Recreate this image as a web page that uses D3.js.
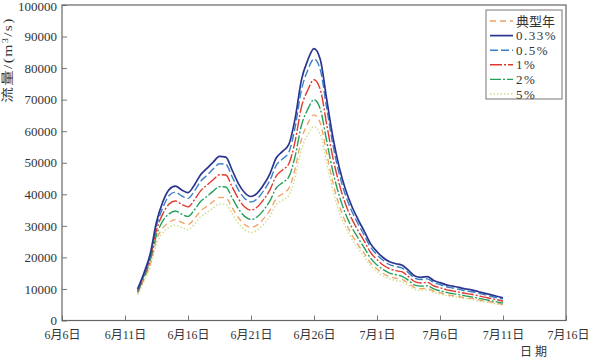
<!DOCTYPE html>
<html><head><meta charset="utf-8">
<script src="https://cdn.jsdelivr.net/npm/d3@7"></script>
<style>
body{margin:0;background:#fff;}
svg{display:block;}
text{font-family:"Liberation Serif","Noto Sans CJK SC",serif;fill:#333;}
</style></head>
<body><svg id="c" width="589" height="358"></svg>
<script>
// ---- data ----
const times = ["06-12 00","06-12 12","06-13 00","06-13 12","06-14 00","06-14 12","06-15 00","06-15 12","06-16 00","06-16 12",
"06-17 00","06-17 12","06-18 00","06-18 12","06-19 00","06-19 12","06-20 00","06-20 12","06-21 00","06-21 12",
"06-22 00","06-22 12","06-23 00","06-23 12","06-24 00","06-24 12","06-25 00","06-25 12","06-26 00","06-26 12",
"06-27 00","06-27 12","06-28 00","06-28 12","06-29 00","06-29 12","06-30 00","06-30 12","07-01 00","07-01 12",
"07-02 00","07-02 12","07-03 00","07-03 12","07-04 00","07-04 12","07-05 00","07-05 12","07-06 00","07-06 12",
"07-07 00","07-07 12","07-08 00","07-08 12","07-09 00","07-09 12","07-10 00","07-10 12","07-11 00"];

const p033 = [10000,15000,21100,31200,37600,41500,42600,41400,40500,42900,46200,48200,50200,52000,51800,47700,43400,40500,39300,40400,
43000,46500,51500,53600,55800,64000,76200,82500,86200,82700,70300,58100,48600,41500,36200,32000,28200,24300,21800,19900,
18600,18000,17500,15900,14100,13700,13900,12700,12000,11300,10900,10500,10000,9700,9200,8700,8200,7700,7200];
const p05 = [9700,14600,20500,30000,35700,39600,40700,39500,38700,41000,44100,46000,48000,49700,49500,45600,41400,38700,37600,38600,
41100,44400,49200,51200,53300,61200,73000,79300,82900,79500,67500,55700,46500,39700,34600,30600,26900,23200,20800,19000,
17700,17100,16600,15100,13400,13000,13200,12000,11400,10700,10300,9900,9400,9100,8700,8200,7700,7200,6800];
const p1 = [9400,14200,19800,28700,33800,36900,37900,36800,36000,38200,41100,42900,44600,46200,46100,42400,38600,36000,35000,36000,
38300,41400,45800,47700,49700,56800,67600,73000,76300,73200,62300,51600,43300,36900,32200,28500,25100,21500,19300,17500,
16400,15800,15400,13900,12300,11900,12100,11000,10400,9800,9400,9000,8600,8300,7900,7400,7000,6600,6100];
const p2 = [9000,13600,19000,27100,31600,33800,34700,33700,33000,35000,37700,39300,41000,42400,42300,38900,35400,33000,32000,32900,
35000,37900,42000,43700,45500,52000,61800,66900,70000,67000,57000,47200,39600,33800,29500,26100,23000,19700,17600,16100,
15000,14500,14000,12700,11200,10900,11000,10000,9400,8900,8500,8200,7800,7500,7100,6700,6300,5900,5500];
const pTyp = [8600,13000,17900,25600,29300,31100,32000,31100,30400,32200,34700,36200,37700,39000,38900,35800,32600,30400,29500,30300,
32300,34900,38600,40200,41900,48100,57400,62400,65200,62500,53100,43700,36500,31200,27200,24000,21200,18200,16300,14900,
13900,13400,13000,11800,10400,10100,10200,9300,8800,8200,7900,7600,7200,7000,6600,6200,5900,5500,5100];
const p5 = [8200,12400,17100,24300,27800,29500,30200,29400,28800,30500,32800,34200,35700,36900,36800,33900,30800,28800,27900,28700,
30500,33000,36600,38100,39600,45500,54200,58800,61500,59000,50100,41300,34500,29600,25900,22900,20100,17300,15500,14100,
13200,12700,12300,11200,9900,9600,9700,8900,8400,7900,7600,7300,6900,6700,6300,5900,5600,5200,4900];

const seriesNames = ["典型年","0.33%","0.5%","1%","2%","5%"];
const seriesValues = [pTyp, p033, p05, p1, p2, p5];

const xTickDates = ["06-06","06-11","06-16","06-21","06-26","07-01","07-06","07-11","07-16"];
const xTickLabels = ["6月6日","6月11日","6月16日","6月21日","6月26日","7月1日","7月6日","7月11日","7月16日"];
const yTicks = [0,10000,20000,30000,40000,50000,60000,70000,80000,90000,100000];

// ---- styles ----
const colors = ["#f0a060","#2a3590","#3b80c6","#e0392e","#22a05a","#cfdc8c"];
const dashes = ["6,4",null,"8,3","12,2,2,2","11,2,2,2","1.5,2"];
const widths = [1.3,1.7,1.4,1.4,1.4,1.4];

const svg = d3.select("#c");
const L=62, R=566, T=5, B=320.5;
const parseT = d3.utcParse("%Y-%m-%d %H");
const parseD = d3.utcParse("%Y-%m-%d");
const x = d3.scaleUtc().domain([parseD("2020-06-06"), parseD("2020-07-16")]).range([L,R]);
const y = d3.scaleLinear().domain([0,100000]).range([B,T]);
const tx = times.map(t=>parseT("2020-"+t));

// axes
const xa = d3.axisBottom(x).tickValues(xTickDates.map(d=>parseD("2020-"+d)))
  .tickFormat((d,i)=>xTickLabels[i]).tickSizeInner(-5).tickSizeOuter(0).tickPadding(10);
const gx = svg.append("g").attr("transform",`translate(0,${B})`).call(xa);
gx.select(".domain").remove();
gx.selectAll("line").attr("stroke","#777");
gx.selectAll("text").attr("font-size",12).attr("fill","#333");
gx.selectAll(".tick:last-of-type text").attr("text-anchor","end").attr("dx",23);

const ya = d3.axisLeft(y).tickValues(yTicks).tickFormat(d3.format("d"))
  .tickSizeInner(-5).tickSizeOuter(0).tickPadding(5);
const gy = svg.append("g").attr("transform",`translate(${L},0)`).call(ya);
gy.select(".domain").remove();
gy.selectAll("line").attr("stroke","#777");
gy.selectAll("text").attr("font-size",13).attr("fill","#333");
gy.selectAll(".tick:last-of-type text").attr("dy","0.4em");

// frame
svg.append("rect").attr("x",L).attr("y",T).attr("width",R-L).attr("height",B-T)
  .attr("fill","none").attr("stroke","#666").attr("stroke-width",1.2);

// lines
const line = d3.line().x((d,i)=>x(tx[i])).y(d=>y(d)).curve(d3.curveMonotoneX);
const drawOrder = [5,0,4,3,2,1];
drawOrder.forEach(k=>{
  svg.append("path").datum(seriesValues[k]).attr("d",line)
    .attr("fill","none").attr("stroke",colors[k]).attr("stroke-width",widths[k])
    .attr("stroke-dasharray",dashes[k]);
});

// axis titles
svg.append("text").attr("transform","translate(12,60) rotate(-90) scale(1.3,1)")
  .attr("text-anchor","middle").attr("font-size",12).attr("letter-spacing",1)
  .html('流量/(m<tspan dy="-4" font-size="8">3</tspan><tspan dy="4">/s)</tspan>');
svg.append("text").attr("x",535).attr("y",356).attr("text-anchor","middle")
  .attr("font-size",12).attr("letter-spacing",3).text("日期");

// legend
const lg = svg.append("g");
lg.append("rect").attr("x",486).attr("y",10).attr("width",76).attr("height",89)
  .attr("fill","#fff").attr("stroke","#777").attr("stroke-width",1);
seriesNames.forEach((n,i)=>{
  const yy = 21 + i*14.6;
  lg.append("line").attr("x1",490).attr("x2",513).attr("y1",yy).attr("y2",yy)
    .attr("stroke",colors[i]).attr("stroke-width",widths[i]).attr("stroke-dasharray",dashes[i]);
  lg.append("text").attr("x",516).attr("y",yy+4.5).attr("font-size",13)
    .attr("letter-spacing", i===0?0:1.5).text(n);
});
</script></body></html>
